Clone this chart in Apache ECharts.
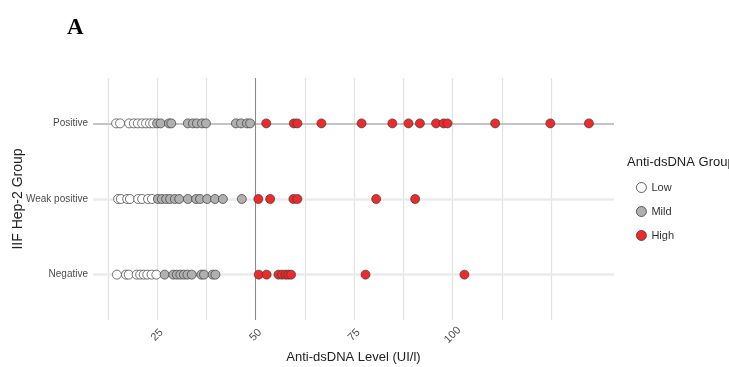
<!DOCTYPE html>
<html><head><meta charset="utf-8">
<script src="https://cdn.jsdelivr.net/npm/echarts@6/dist/echarts.min.js"></script>
<style>html,body{margin:0;padding:0;background:#fff}#c{width:729px;height:367px}</style>
</head><body><div id="c"></div>
<script>
const categories = ['Negative', 'Weak positive', 'Positive'];
const groups = ['Low', 'Mild', 'High'];
// values per IIF group (index into categories) and anti-dsDNA group
const negativeLow  = [14.8, 17.1, 17.8, 19.8, 20.7, 21.6, 22.5, 23.6, 24.8];
const negativeMild = [26.9, 29.1, 30.0, 30.9, 31.8, 32.7, 33.8, 36.2, 36.9, 39.1, 39.8];
const negativeHigh = [50.8, 52.8, 55.8, 56.7, 57.6, 58.3, 59.0, 77.9, 103.0];
const weakLow  = [15.1, 15.8, 17.4, 18.1, 20.2, 21.2, 22.7, 23.7];
const weakMild = [25.2, 26.2, 27.3, 28.3, 29.5, 30.6, 32.8, 34.9, 35.9, 37.7, 39.7, 41.7, 46.5];
const weakHigh = [50.7, 53.7, 59.6, 60.6, 80.6, 90.5];
const positiveLow  = [14.6, 15.6, 17.9, 19.1, 20.1, 21.2, 22.2, 23.2, 24.0];
const positiveMild = [25.0, 25.9, 28.0, 28.6, 32.8, 34.1, 35.1, 36.4, 37.4, 45.0, 46.3, 47.8, 48.6];
const positiveHigh = [52.7, 59.7, 60.6, 66.7, 76.9, 84.7, 88.8, 91.7, 95.8, 97.7, 98.7, 110.8, 124.8, 134.6];
const xTickLabels = [25, 50, 75, 100];
const xGridLines = [12.5, 25, 37.5, 50, 62.5, 75, 87.5, 100, 112.5, 125];
const cutoff = 50;
const xMin = 8.73, xMax = 140.96;

const byGroup = {
  Low: [negativeLow, weakLow, positiveLow],
  Mild: [negativeMild, weakMild, positiveMild],
  High: [negativeHigh, weakHigh, positiveHigh]
};
const fills = { Low: '#ffffff', Mild: '#b0b0b0', High: '#f02a2a' };
const font = 'Liberation Sans, Arial, sans-serif';

const pointSeries = groups.map(g => ({
  name: g, type: 'scatter', symbol: 'circle', symbolSize: 9, z: 10,
  itemStyle: { color: fills[g], borderColor: '#3a3a3a', borderWidth: 0.7, opacity: 1 },
  data: byGroup[g].flatMap((vals, ci) => vals.map(v => [v, ci]))
}));

const gridSeries = {
  type: 'scatter', data: [], z: 0, silent: true,
  markLine: {
    silent: true, symbol: 'none', label: { show: false }, animation: false, z: 0,
    data: [
      ...xGridLines.map(v => ({ xAxis: v, lineStyle: { color: '#e2e2e2', width: 1.2, type: 'solid' } })),
      ...categories.map((c, i) => ({ yAxis: i, lineStyle: { color: i === 2 ? '#c4c4c4' : '#ebebeb', width: i === 2 ? 2 : 2.5, type: 'solid' } })),
      { xAxis: cutoff, lineStyle: { color: '#8a8a8a', width: 1, type: 'solid' } }
    ]
  }
};

const chart = echarts.init(document.getElementById('c'), null, { renderer: 'canvas' });
chart.setOption({
  animation: false,
  backgroundColor: '#ffffff',
  title: { text: 'A', left: 62, top: 12, textStyle: { fontFamily: 'Liberation Serif, DejaVu Serif, serif', fontWeight: 'bold', fontSize: 23, color: '#000' } },
  grid: { left: 93, right: 115, top: 78, bottom: 47, containLabel: false, outerBoundsMode: 'none' },
  legend: {
    data: groups, orient: 'vertical', left: 631, top: 177, itemGap: 13,
    itemWidth: 10, itemHeight: 10, icon: 'circle', itemTextGap: 7,
    itemStyle: { borderWidth: 0.8, borderColor: '#3a3a3a' },
    textStyle: { fontFamily: font, fontSize: 11, color: '#333' }
  },
  graphic: [{ type: 'text', left: 627, top: 156, style: { text: 'Anti-dsDNA Group', font: '13px Liberation Sans, Arial, sans-serif', fill: '#222' } }],
  xAxis: {
    type: 'value', min: xMin, max: xMax,
    name: 'Anti-dsDNA Level (UI/l)', nameLocation: 'middle', nameGap: 31, nameMoveOverlap: false,
    nameTextStyle: { fontFamily: font, fontSize: 13, color: '#222' },
    axisLine: { show: false }, axisTick: { show: false }, splitLine: { show: false },
    axisLabel: { customValues: xTickLabels, rotate: 45, align: 'center', verticalAlign: 'middle', margin: 15, fontFamily: font, fontSize: 11, color: '#4d4d4d' }
  },
  yAxis: {
    type: 'value', min: -0.6, max: 2.6,
    name: 'IIF Hep-2 Group', nameLocation: 'middle', nameGap: 68, nameMoveOverlap: false,
    nameTextStyle: { fontFamily: font, fontSize: 14, color: '#222' },
    axisLine: { show: false }, axisTick: { show: false }, splitLine: { show: false },
    axisLabel: { customValues: [0, 1, 2], formatter: v => categories[Math.round(v)], margin: 5, fontFamily: font, fontSize: 10, color: '#4d4d4d' }
  },
  series: [gridSeries, ...pointSeries]
});
</script></body></html>
